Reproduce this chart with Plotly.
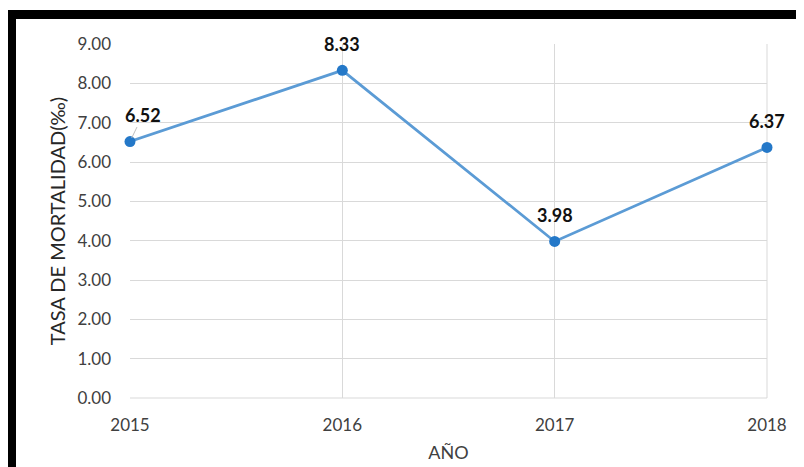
import plotly.graph_objects as go

years = [2015, 2016, 2017, 2018]
rates = [6.52, 8.33, 3.98, 6.37]
labels = ["6.52", "8.33", "3.98", "6.37"]
y_ticks = [0, 1, 2, 3, 4, 5, 6, 7, 8, 9]
y_ticktext = ["%.2f" % v for v in y_ticks]

FONT = "Lato, Carlito, 'Open Sans', sans-serif"
OFF = 8  # page offset of the figure (default body margin)
W, H = 804 - OFF, 467 - OFF
L, R, T, B = 130 - OFF, 37, 44 - OFF, 69
pw, ph = W - L - R, H - T - B

fig = go.Figure()
fig.add_trace(go.Scatter(
    x=years, y=rates, mode="lines+markers",
    line=dict(color="#5B9BD5", width=2.75),
    marker=dict(color="#2478C8", size=11, line=dict(color="#2478C8", width=0)),
    cliponaxis=False,
    hoverinfo="x+y", showlegend=False,
))

for i, (xv, yv, t) in enumerate(zip(years, rates, labels)):
    if i == 0:
        fig.add_annotation(x=xv, y=yv, text="<b>%s</b>" % t, showarrow=True,
                           ax=13, ay=-27, arrowhead=0, arrowwidth=1,
                           arrowcolor="#BFBFBF", standoff=4,
                           font=dict(family=FONT, size=18, color="#111111"))
    else:
        fig.add_annotation(x=xv, y=yv, text="<b>%s</b>" % t, showarrow=False,
                           yshift=26,
                           font=dict(family=FONT, size=18, color="#111111"))

# black frame (cropped screenshot border), given in page pixels
def px_x(p):
    return (p - OFF - L) / pw

def px_y(p):
    return (H - B - (p - OFF)) / ph

fig.add_shape(type="rect", xref="paper", yref="paper",
              x0=px_x(7), x1=px_x(16), y0=px_y(480), y1=px_y(10),
              fillcolor="black", line=dict(width=0), layer="above")
fig.add_shape(type="rect", xref="paper", yref="paper",
              x0=px_x(7), x1=px_x(820), y0=px_y(19), y1=px_y(10),
              fillcolor="black", line=dict(width=0), layer="above")

fig.update_layout(
    width=W, height=H,
    margin=dict(l=L, r=R, t=T, b=B),
    paper_bgcolor="white", plot_bgcolor="white",
    font=dict(family=FONT, size=17, color="#404040"),
    xaxis=dict(
        range=[2015, 2018], tickmode="array", tickvals=years,
        ticktext=[str(y) for y in years],
        showgrid=True, gridcolor="#D9D9D9", gridwidth=1,
        zeroline=False, showline=False, ticks="", automargin=False,
        ticklabelstandoff=15,
        tickfont=dict(family=FONT, size=17, color="#404040"),
        title=dict(text="AÑO", font=dict(family=FONT, size=18, color="#404040"), standoff=12),
    ),
    yaxis=dict(
        range=[0, 9], tickmode="array", tickvals=y_ticks, ticktext=y_ticktext,
        showgrid=True, gridcolor="#D9D9D9", gridwidth=1,
        zeroline=False, showline=False, ticks="", automargin=False,
        ticklabelstandoff=18,
        tickfont=dict(family=FONT, size=17, color="#404040"),
        title=dict(text="TASA DE MORTALIDAD(‰)", font=dict(family=FONT, size=20, color="#262626"), standoff=6),
    ),
)
# right and bottom edge gridlines
fig.add_shape(type="line", xref="paper", yref="paper", x0=0, x1=1, y0=0, y1=0,
              line=dict(color="#D9D9D9", width=1), layer="below")
fig.add_shape(type="line", xref="paper", yref="paper", x0=1, x1=1, y0=0, y1=1,
              line=dict(color="#D9D9D9", width=1), layer="below")

fig.write_html("out.html")
